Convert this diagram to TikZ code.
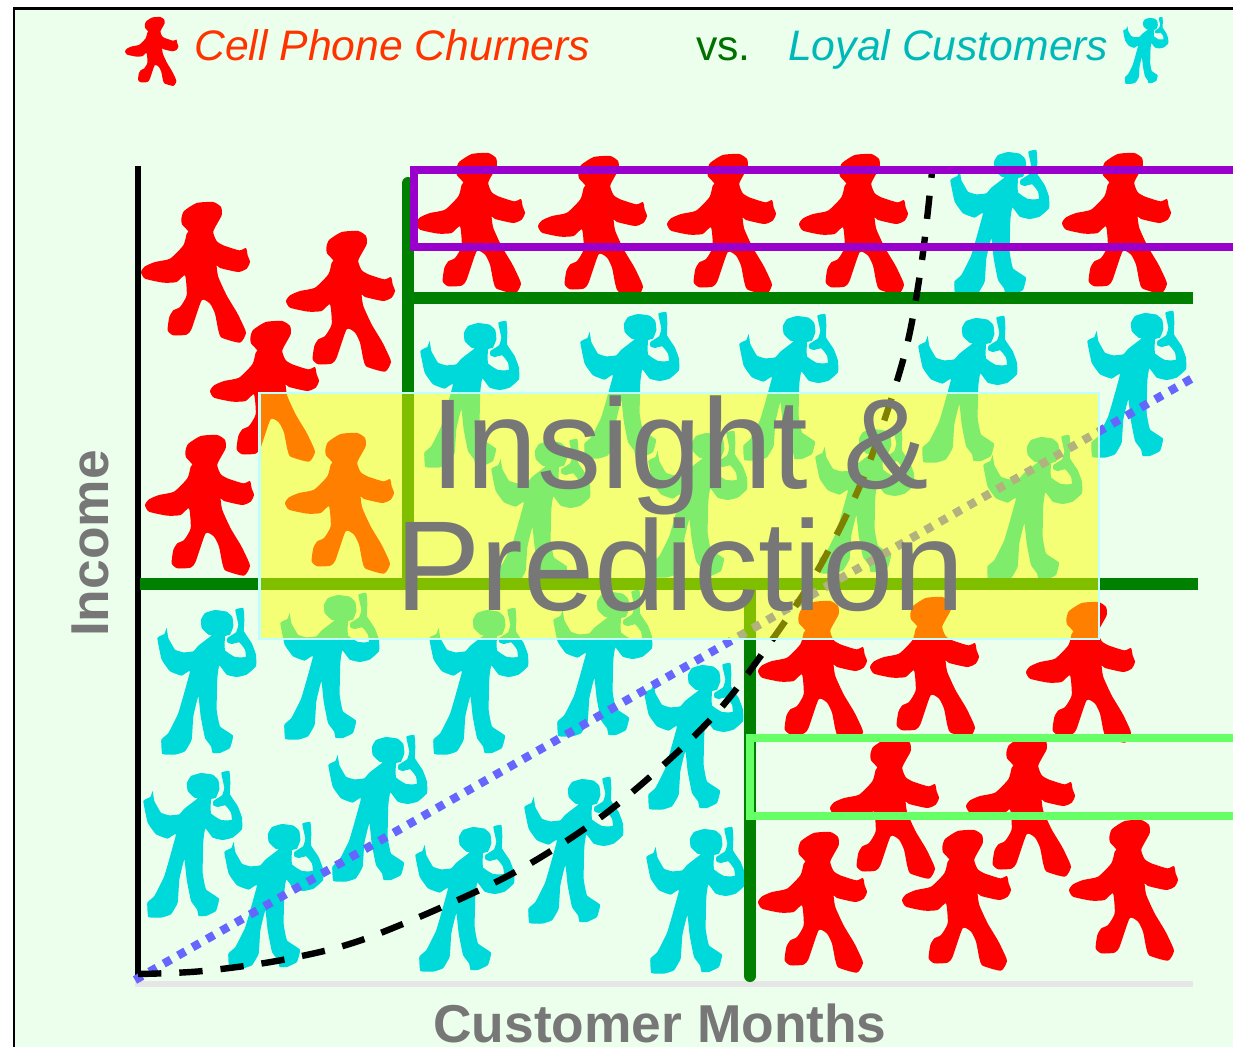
\documentclass[tikz,border=0pt]{standalone}
\usepackage{fontspec}
\setmainfont{Liberation Sans}
\definecolor{bgc}{HTML}{ECFFEC}
\definecolor{manred}{HTML}{FF0000}
\definecolor{mancyan}{HTML}{00D9D9}
\definecolor{dgreen}{HTML}{008000}
\definecolor{lgreen}{HTML}{66FF66}
\definecolor{purp}{HTML}{9900CC}
\definecolor{bluedot}{HTML}{6666FF}
\definecolor{gtext}{HTML}{777777}
\definecolor{paleaxis}{HTML}{E6E6E6}
\definecolor{palecy}{HTML}{BFFFFF}
\definecolor{cellc}{HTML}{FF3300}
\definecolor{loyc}{HTML}{00B8B8}
\definecolor{vsc}{HTML}{007000}
\definecolor{hiyellow}{HTML}{FFFF00}
\tikzset{
  x=.75pt,y=-.75pt,
  redman/.pic={\begin{scope}[scale=1/3,shift={(-63,-605)}]
    \fill[manred] plot[smooth cycle,tension=.35] coordinates{
    (205,693)(186,672)(184,655)(192,632)(230,608)(280,605)(303,620)(305,645)(280,693)(290,722)(310,735)(358,750)(378,743)(383,765)(390,785)(380,805)(355,815)(300,803)(290,795)(295,830)(320,885)(350,935)(365,965)(378,998)(360,1027)(305,1012)(295,990)(285,940)(270,910)(245,900)(215,985)(200,1003)(160,1005)(143,990)(148,950)(160,930)(180,920)(200,885)(195,825)(170,845)(130,847)(75,835)(63,815)(75,798)(105,785)(150,775)(190,735)(200,700)};
  \end{scope}},
  cyanman/.pic={\begin{scope}[scale=1/3,shift={(-81,-25)}]
    \fill[mancyan] plot[smooth cycle,tension=.2] coordinates{
    (235,105)(215,85)(213,60)(225,40)(255,31)(290,36)(307,52)(310,80)(300,105)(285,110)(285,152)(315,172)(347,172)(345,150)(328,128)(305,133)(292,128)(292,115)(318,98)(325,75)(316,30)(340,25)(343,60)(342,95)(365,130)(378,165)(378,200)(350,225)(320,232)(290,225)(268,197)(262,235)(260,330)(270,380)(309,408)(300,445)(270,460)(248,460)(243,440)(225,415)(212,350)(205,290)(190,350)(185,420)(165,455)(135,465)(97,463)(94,420)(115,400)(145,340)(180,215)(155,228)(120,215)(95,180)(82,115)(103,103)(110,85)(115,115)(135,150)(160,158)(190,155)(205,138)(245,107)};
  \end{scope}},
  greenline/.style={dgreen,line width=9pt},
  toptext/.style={inner sep=0pt,anchor=base west,font=\fontsize{32pt}{36pt}\selectfont},
  bigtext/.style={inner sep=0pt,anchor=base,text=gtext,font=\fontsize{96pt}{100pt}\selectfont},
  axistext/.style={inner sep=0pt,anchor=base,text=gtext,font=\fontsize{40pt}{42pt}\selectfont\bfseries},
  framebox/.style={line width=6.4pt}
}
\begin{document}
\begin{tikzpicture}
\useasboundingbox (0,0) rectangle (1233,1047);
\clip (0,0) rectangle (1233,1047);
\fill[white] (0,0) rectangle (1233,1047);
\filldraw[fill=bgc,draw=black,line width=1.9pt] (14,8.5) rectangle (1300,1100);
% legend
\pic[scale=.49] at (125,17) {redman};
\pic[scale=.456] at (1123,17) {cyanman};
\node[toptext,text=cellc] (cell) at (194,60) {\itshape Cell Phone Churners};
\node[toptext,text=vsc] (vs) at (696,60) {vs.};
\node[toptext,text=loyc] (loyal) at (788,60) {\itshape Loyal Customers};
% red figures
\foreach \px/\py in {141/202,286/231,210/321,145/435,285/433,
  416/153,538/156,667/154,799/154,1062/153,
  758/601,870/597,1026/602,830/738,966/736,758/832,902/830,1069/820}
  {\pic at (\px,\py) {redman};}
% cyan figures
\foreach \px/\py in {950/150,420/321,580/312,739/314,918/316,1087/311,
  491/439,648/431,815/427,983/435,
  157/608,280/593,429/608,553/590,
  644/663,143/771,224/822,328/735,415/825,524/777,646/827}
  {\pic at (\px,\py) {cyanman};}
% axes
\fill[paleaxis] (135,981) rectangle (1193,987);
\draw[black,line width=4.5pt] (138,166) -- (138,978);
% green partition
\draw[greenline] (402,298) -- (1193,298);
\draw[greenline] (408,183) -- (408,584);
\draw[greenline] (140,584) -- (1198,584);
\draw[greenline] (750,584) -- (750,976);
\fill[dgreen] (750,976) circle (6);
\fill[dgreen] (408,183) circle (6);
% trend lines
\draw[bluedot,line width=6.3pt,dash pattern=on 6.2pt off 6.2pt] (135,980) -- (1198,375);
\draw[black,line width=4.8pt,dash pattern=on 17.5pt off 13.5pt]
  plot[smooth,tension=.55] coordinates{(138,974)(203,971)(287,959)(370,937)(500,880)(590,825)(660,768)(720,709)(772,640)(815,575)(855,497)(881,430)(907,345)(922,260)(932,172)};
% boxes
\draw[purp,framebox] (414,170) rectangle (1300,247);
\draw[lgreen,framebox] (750,738) rectangle (1300,816);
% highlight
\fill[hiyellow,opacity=.5] (259.5,393) rectangle (1099,639);
\draw[palecy,line width=1.7pt] (259.5,393) rectangle (1099,639);
\node[bigtext] (insight) at (680,488) {Insight \&};
\node[bigtext] (prediction) at (680,610) {Prediction};
% axis labels
\node[axistext] (xlabel) at (660,1042) {Customer Months};
\node[axistext,rotate=90] (ylabel) at (108,543.5) {Income};
\end{tikzpicture}
\end{document}
